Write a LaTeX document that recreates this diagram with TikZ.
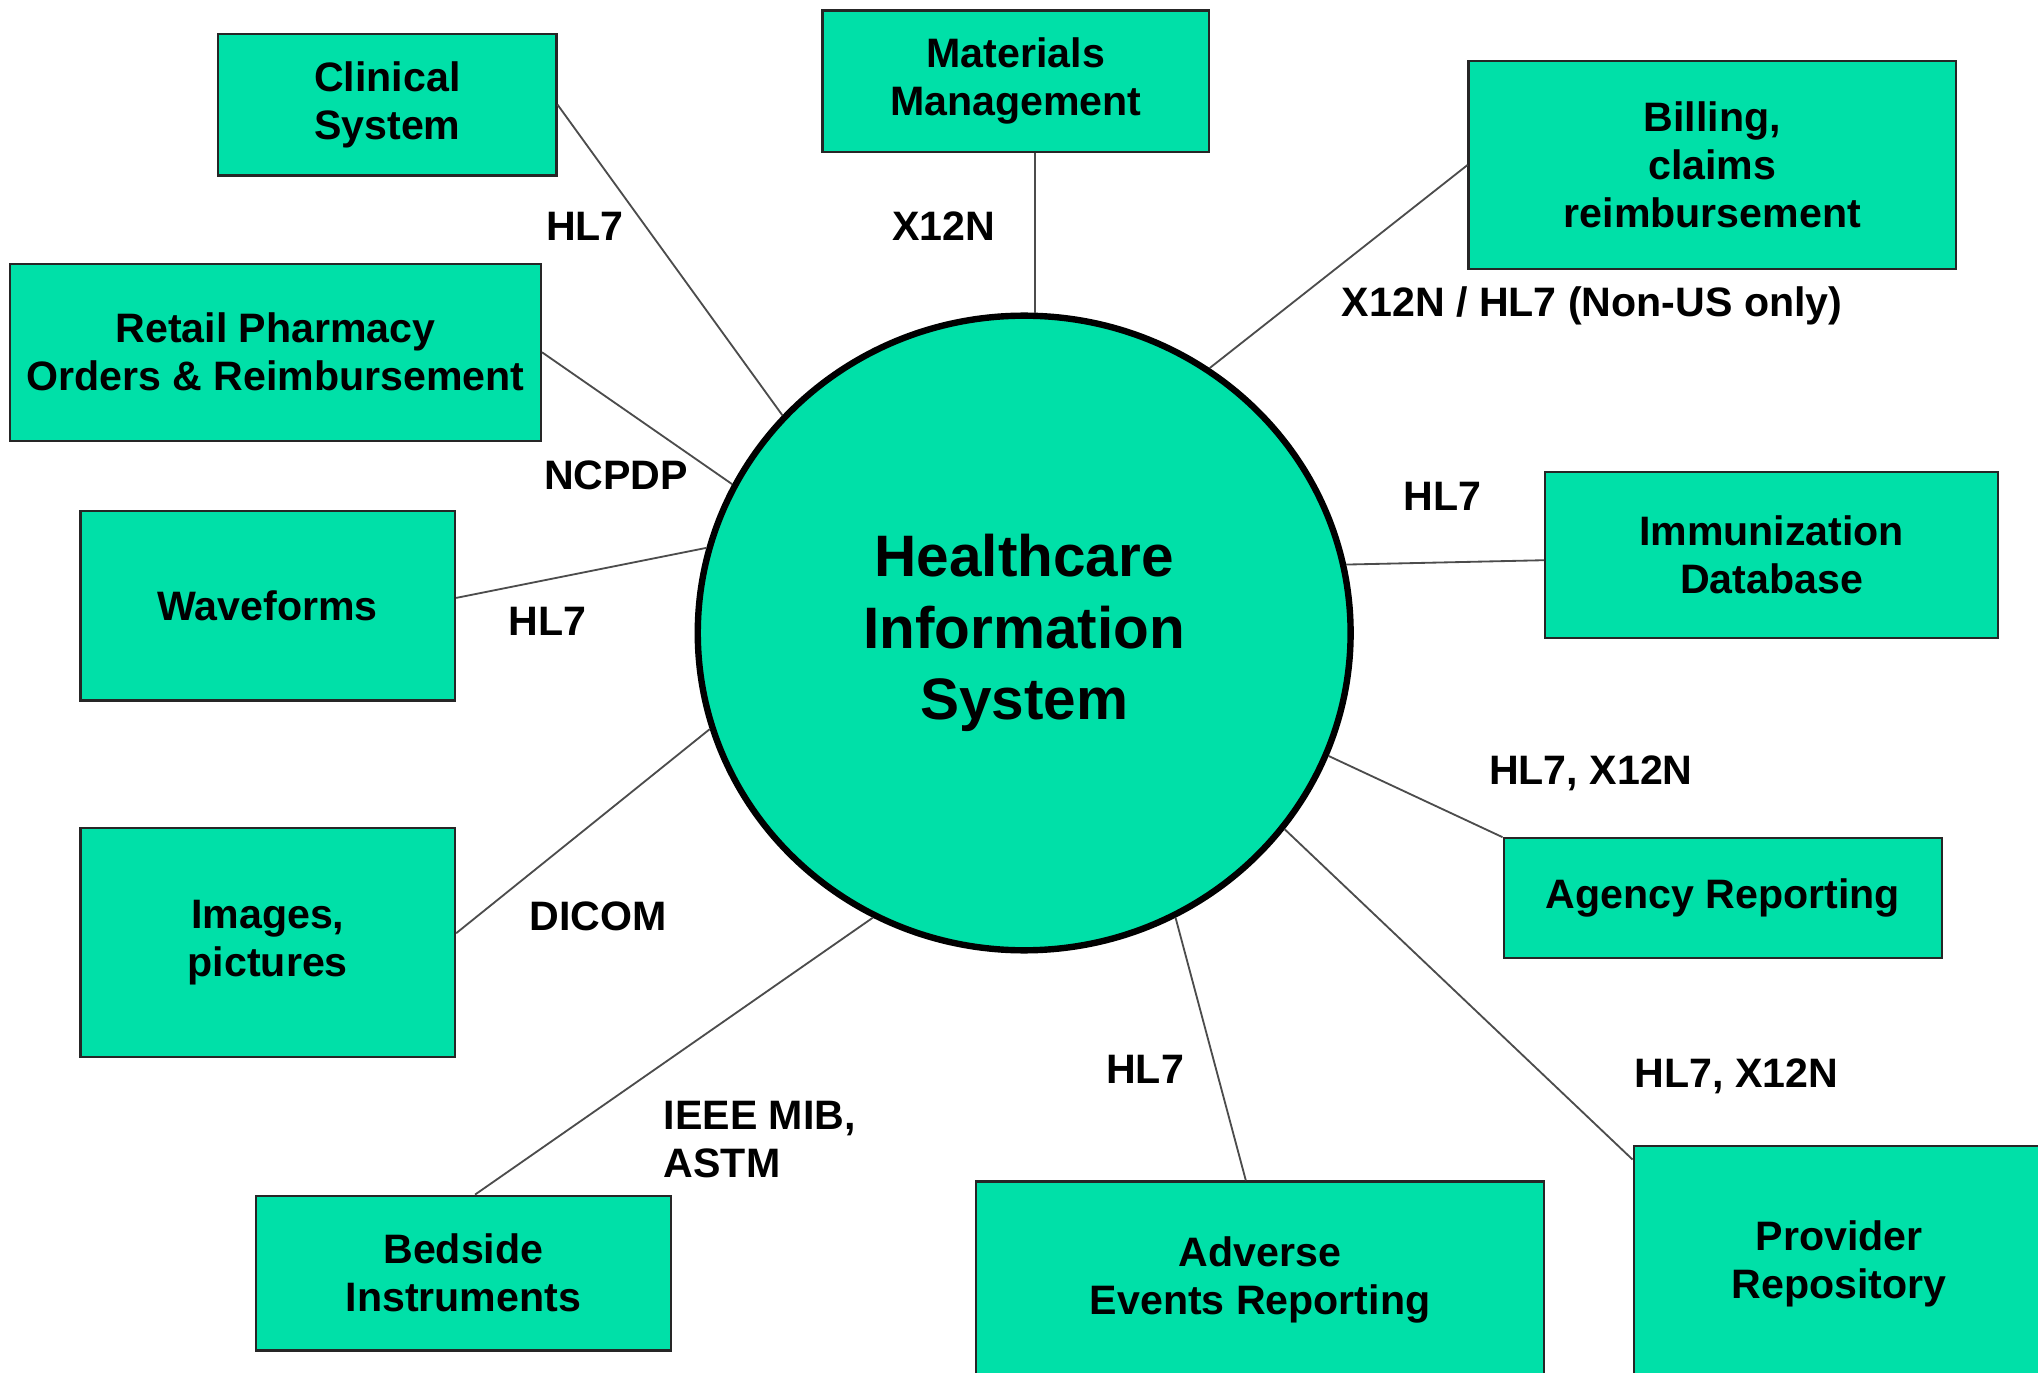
\documentclass[tikz,border=0pt]{standalone}
\usepackage{fontspec}
\setmainfont{Liberation Sans}
\usetikzlibrary{shapes.geometric}

\definecolor{hisgreen}{RGB}{0,224,168}
\newcommand{\boxfont}{\fontsize{9}{10.5}\selectfont\bfseries}
\newcommand{\hubfont}{\fontsize{12.8}{15.6}\selectfont\bfseries}

\begin{document}
\begin{tikzpicture}[x=0.01cm, y=-0.01cm,
    sysbox/.style={draw=black!85, fill=hisgreen, line width=0.5pt, align=center, font=\boxfont, inner sep=0pt},
    proto/.style={font=\boxfont, align=center, inner sep=0pt},
    link/.style={draw=black!70, line width=0.4pt}]
    \useasboundingbox (0,0) rectangle (1568,1056);
    \clip (0,0) rectangle (1568,1056);

    % The hub in the middle
    \node[ellipse, draw=black, line width=1.4pt, fill=hisgreen, minimum width=5.02cm, minimum height=4.88cm, inner sep=0pt, font=\hubfont, align=center] (his) at (788,487) {Healthcare\\Information\\System};

    % Systems round the hub, left side
    \node[sysbox, minimum width=2.6cm, minimum height=1.09cm] (clin) at (298,80.5) {Clinical\\System};
    \node[sysbox, minimum width=4.08cm, minimum height=1.36cm] (pharm) at (212,271) {Retail Pharmacy\\Orders \& Reimbursement};
    \node[sysbox, minimum width=2.88cm, minimum height=1.46cm] (wave) at (206,466) {Waveforms};
    \node[sysbox, minimum width=2.88cm, minimum height=1.76cm] (img) at (206,725) {Images,\\pictures};
    \node[sysbox, minimum width=3.19cm, minimum height=1.19cm] (bed) at (356.5,979.5) {Bedside\\Instruments};

    % Systems round the hub, top and right side
    \node[sysbox, minimum width=2.97cm, minimum height=1.09cm] (mat) at (781.5,62.5) {Materials\\Management};
    \node[sysbox, minimum width=3.75cm, minimum height=1.6cm] (bill) at (1317.5,127) {Billing,\\claims\\reimbursement};
    \node[sysbox, minimum width=3.48cm, minimum height=1.28cm] (immu) at (1363,427) {Immunization\\Database};
    \node[sysbox, minimum width=3.37cm, minimum height=0.92cm] (agency) at (1325.5,691) {Agency Reporting};
    \node[sysbox, minimum width=3.16cm, minimum height=1.8cm] (prov) at (1415,972) {Provider\\Repository};
    \node[sysbox, minimum width=4.37cm, minimum height=1.51cm] (adv) at (969.5,984.5) {Adverse\\Events Reporting};

    % Connectors to the hub
    \draw[link] (clin.east) -- (his.138);
    \draw[link] (pharm.east) -- (his.153);
    \draw[link] ([yshift=0.06cm]wave.east) -- (his.165);
    \draw[link] ([yshift=0.07cm]img.east) -- (his.197);
    \draw[link] ([xshift=0.09cm]bed.north) -- (his.242);
    \draw[link] (his.88) -- (his.88 |- mat.south);
    \draw[link] (bill.west) -- (his.55);
    \draw[link] ([yshift=-0.04cm]immu.west) -- (his.12);
    \draw[link] (agency.north west) -- (his.-22);
    \draw[link] ([yshift=-0.11cm]prov.north west) -- (his.-37);
    \draw[link] ([xshift=-0.11cm]adv.north) -- (his.-62);

    % Protocol labels
    \node[proto] (pclin) at (450,174) {HL7};
    \node[proto] (pmat) at (726,174) {X12N};
    \node[proto] (pbill) at (1225,235) {X12N / HL7 (Non-US only)};
    \node[proto] (ppharm) at (474,366) {NCPDP};
    \node[proto] (pwave) at (421,478) {HL7};
    \node[proto] (pimmu) at (1110,382) {HL7};
    \node[proto] (pagency) at (1224,595) {HL7, X12N};
    \node[proto] (pimg) at (460,705) {DICOM};
    \node[proto, align=left, anchor=west] (pbed) at (510,877) {IEEE MIB,\\ASTM};
    \node[proto] (padv) at (881,823) {HL7};
    \node[proto] (pprov) at (1336,828) {HL7, X12N};
\end{tikzpicture}
\end{document}
